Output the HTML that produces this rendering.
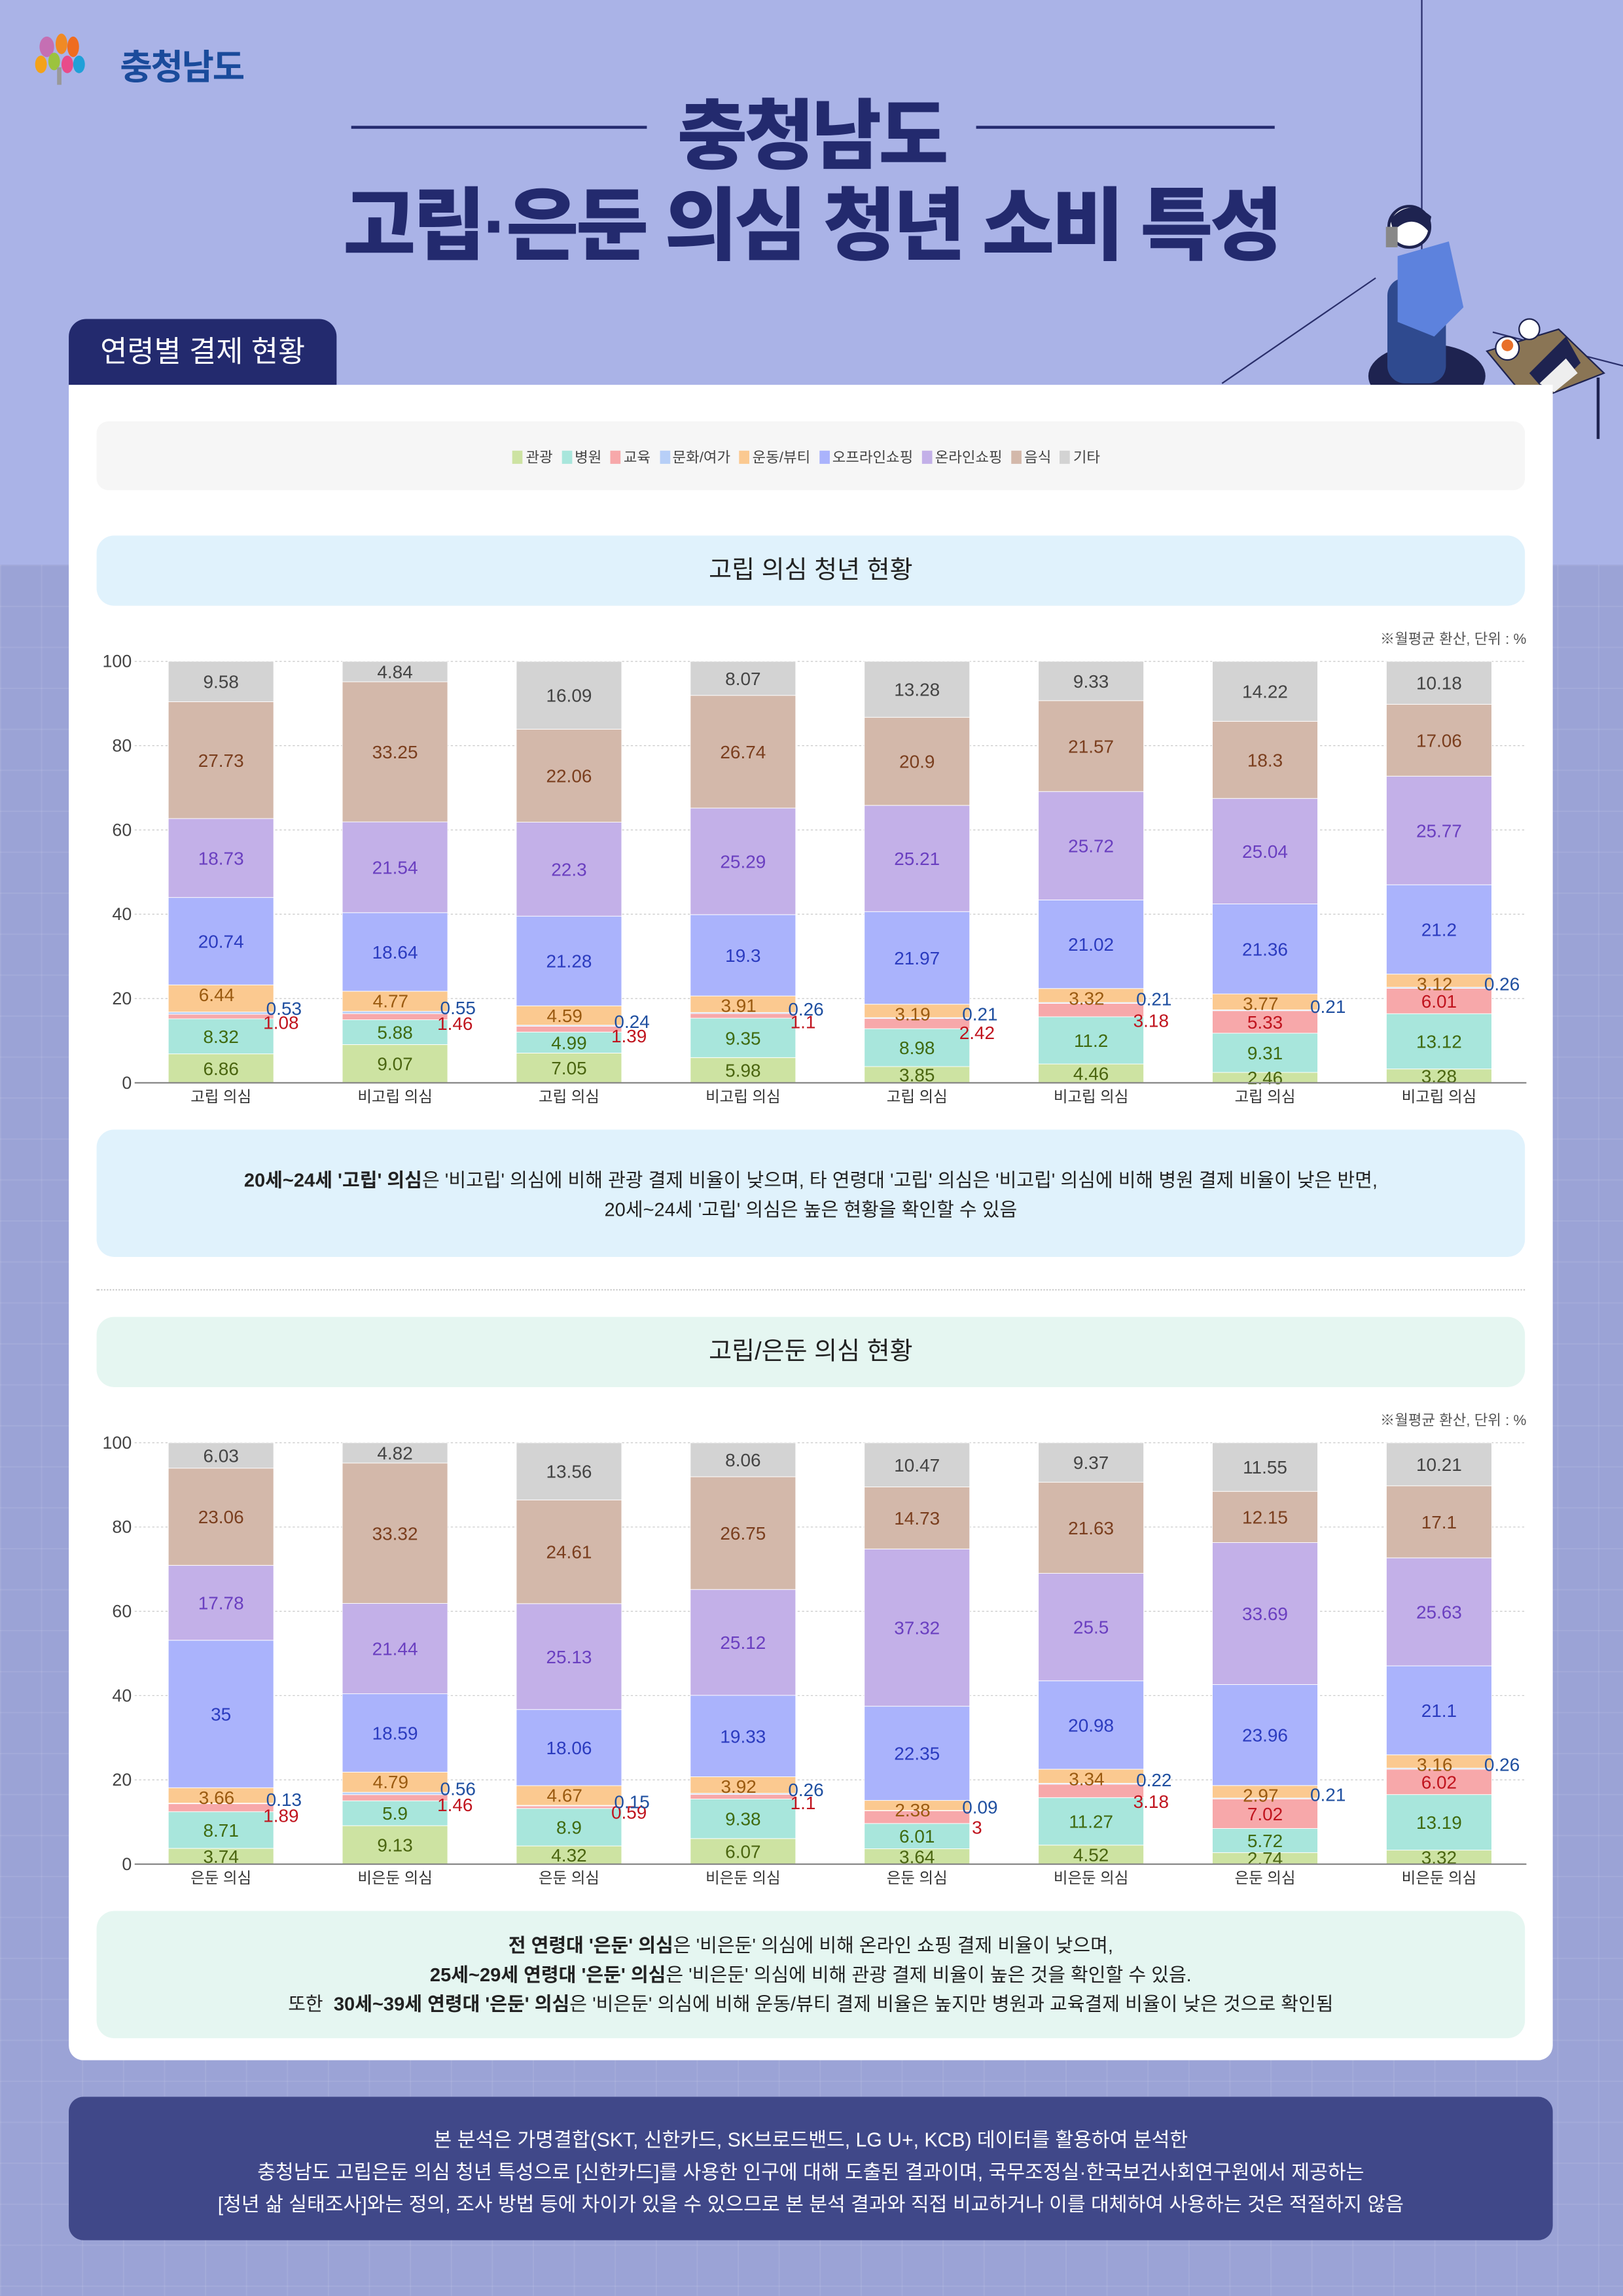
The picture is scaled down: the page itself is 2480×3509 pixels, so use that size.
<!DOCTYPE html>
<html><head><meta charset="utf-8">
<style>
html,body{margin:0;padding:0;}
body{width:2480px;height:3508px;overflow:hidden;background:#9ba3d6;}
#wrap{position:absolute;left:0;top:0;width:1109px;height:1569px;transform:scale(2.23625);transform-origin:0 0;font-family:"Liberation Sans","Noto Sans CJK KR",sans-serif;}
.abs{position:absolute;}
</style></head>
<body>
<div id="wrap">
<div class="abs" style="left:0;top:0;width:1109px;height:386px;background:#aab3e7;"></div>
<div class="abs" style="left:0;top:386px;width:1109px;height:1183px;background-color:#9ba3d6;background-image:linear-gradient(rgba(255,255,255,0.08) 1px,transparent 1px),linear-gradient(90deg,rgba(255,255,255,0.08) 1px,transparent 1px);background-size:28px 28px;"></div>
<div class="abs" style="left:971px;top:0;width:1px;height:250px;background:#2a2f6b;"></div>

<!-- logo -->
<div class="abs" style="left:22px;top:22px;width:150px;height:40px;">
<svg width="56" height="36" viewBox="0 0 56 36">
<ellipse cx="10" cy="10" rx="5" ry="7" fill="#c56fb3"/><ellipse cx="20" cy="8" rx="4" ry="7" fill="#f08a24"/><ellipse cx="28" cy="10" rx="4" ry="7" fill="#ef6c1f"/>
<ellipse cx="6" cy="22" rx="4" ry="6" fill="#f3a21a"/><ellipse cx="15" cy="20" rx="4" ry="6" fill="#9cc33e"/><ellipse cx="24" cy="22" rx="4" ry="6" fill="#e94b8a"/><ellipse cx="32" cy="22" rx="4" ry="6" fill="#20a0d8"/>
<rect x="17" y="24" width="3" height="12" fill="#999"/></svg>
<span class="abs" style="left:60px;top:4px;font-size:24px;font-weight:bold;color:#1a4b9b;letter-spacing:-1px;">충청남도</span>
</div>

<!-- title -->
<div class="abs" style="left:240px;top:86px;width:202px;height:2px;background:#232a6e;"></div>
<div class="abs" style="left:667px;top:86px;width:204px;height:2px;background:#232a6e;"></div>
<div class="abs" style="left:0;top:51px;width:1109px;text-align:center;font-size:52px;font-weight:900;color:#232a6e;letter-spacing:-2px;">충청남도</div>
<div class="abs" style="left:0;top:110px;width:1109px;text-align:center;font-size:54px;font-weight:900;color:#232a6e;letter-spacing:-2px;">고립·은둔 의심 청년 소비 특성</div>

<!-- illustration -->
<svg class="abs" style="left:830px;top:130px;" width="279" height="190" viewBox="0 0 279 190">
<line x1="5" y1="132" x2="110" y2="60" stroke="#2a2f6b" stroke-width="1"/>
<line x1="190" y1="97" x2="279" y2="120" stroke="#2a2f6b" stroke-width="1"/>
<ellipse cx="145" cy="127" rx="40" ry="22" fill="#1e2350"/>
<rect x="118" y="60" width="40" height="72" rx="12" fill="#2f4a8f"/>
<path d="M125 45 L160 35 L170 80 L150 100 L125 90 Z" fill="#5d82dd"/>
<circle cx="133" cy="25" r="14" fill="#fff" stroke="#1e2350" stroke-width="2"/>
<path d="M120 20 Q133 5 148 18 L146 28 Q135 15 122 28Z" fill="#1e2350"/>
<rect x="117" y="25" width="8" height="14" fill="#888"/>
<path d="M186 110 L235 95 L266 125 L215 145 Z" fill="#8a7555" stroke="#1e2350"/>
<line x1="215" y1="145" x2="215" y2="186" stroke="#1e2350" stroke-width="2"/><line x1="262" y1="128" x2="262" y2="170" stroke="#1e2350" stroke-width="2"/>
<path d="M215 125 L240 100 L250 118 L228 140 Z" fill="#1e2350"/>
<path d="M222 132 L240 115 L248 125 L232 138Z" fill="#eee"/>
<circle cx="200" cy="108" r="8" fill="#fff" stroke="#1e2350"/><circle cx="200" cy="106" r="4" fill="#e8702a"/>
<circle cx="215" cy="95" r="7" fill="#fff" stroke="#1e2350"/>
</svg>

<!-- tab -->
<div class="abs" style="left:47px;top:218px;width:183px;height:46px;background:#232a6e;border-radius:12px 12px 0 0;color:#fff;font-size:20px;line-height:46px;text-align:center;">연령별 결제 현황</div>

<!-- card -->
<div class="abs" style="left:47px;top:263px;width:1014px;height:1145px;background:#fff;border-radius:0 0 10px 10px;"></div>

<div class="abs" style="left:66px;top:288px;width:976px;height:47px;background:#f6f6f6;border-radius:8px;"></div>
<div id="legend" class="abs" style="left:66px;top:304px;width:976px;text-align:center;font-size:10px;color:#444;"></div>

<div class="abs" style="left:66px;top:366px;width:976px;height:48px;background:#e0f2fc;border-radius:12px;text-align:center;line-height:48px;font-size:17px;color:#222;">고립 의심 청년 현황</div>
<div class="abs" style="left:843px;top:428px;width:200px;text-align:right;font-size:10px;color:#555;">※월평균 환산, 단위 : %</div>
<svg id="chart1" class="abs" style="left:0;top:440px;" width="1109" height="320"></svg>

<div class="abs" style="left:66px;top:772px;width:976px;height:87px;background:#e0f2fc;border-radius:12px;text-align:center;font-size:13px;color:#222;line-height:20px;padding-top:25px;box-sizing:border-box;"><b>20세~24세 '고립' 의심</b>은 '비고립' 의심에 비해 관광 결제 비율이 낮으며, 타 연령대 '고립' 의심은 '비고립' 의심에 비해 병원 결제 비율이 낮은 반면,<br>20세~24세 '고립' 의심은 높은 현황을 확인할 수 있음</div>

<div class="abs" style="left:66px;top:881px;width:976px;border-top:1px dotted #ccc;"></div>

<div class="abs" style="left:66px;top:900px;width:976px;height:48px;background:#e5f6f1;border-radius:12px;text-align:center;line-height:48px;font-size:17px;color:#222;">고립/은둔 의심 현황</div>
<div class="abs" style="left:843px;top:962px;width:200px;text-align:right;font-size:10px;color:#555;">※월평균 환산, 단위 : %</div>
<svg id="chart2" class="abs" style="left:0;top:974px;" width="1109" height="320"></svg>

<div class="abs" style="left:66px;top:1306px;width:976px;height:87px;background:#e5f6f1;border-radius:12px;text-align:center;font-size:13px;color:#222;line-height:20px;padding-top:14px;box-sizing:border-box;"><b>전 연령대 '은둔' 의심</b>은 '비은둔' 의심에 비해 온라인 쇼핑 결제 비율이 낮으며,<br><b>25세~29세 연령대 '은둔' 의심</b>은 '비은둔' 의심에 비해 관광 결제 비율이 높은 것을 확인할 수 있음.<br>또한 &nbsp;<b>30세~39세 연령대 '은둔' 의심</b>은 '비은둔' 의심에 비해 운동/뷰티 결제 비율은 높지만 병원과 교육결제 비율이 낮은 것으로 확인됨</div>

<div class="abs" style="left:47px;top:1433px;width:1014px;height:98px;background:#404889;border-radius:10px;text-align:center;color:#fff;font-size:13.5px;line-height:22px;padding-top:19px;box-sizing:border-box;">본 분석은 가명결합(SKT, 신한카드, SK브로드밴드, LG U+, KCB) 데이터를 활용하여 분석한<br>충청남도 고립은둔 의심 청년 특성으로 [신한카드]를 사용한 인구에 대해 도출된 결과이며, 국무조정실·한국보건사회연구원에서 제공하는<br>[청년 삶 실태조사]와는 정의, 조사 방법 등에 차이가 있을 수 있으므로 본 분석 결과와 직접 비교하거나 이를 대체하여 사용하는 것은 적절하지 않음</div>
</div>

<script>
const categories = ["관광","병원","교육","문화/여가","운동/뷰티","오프라인쇼핑","온라인쇼핑","음식","기타"];
const barColors = ["#cde3a2","#a8e6dc","#f7a8aa","#b7cff7","#fbc990","#aab3fc","#c3b0e8","#d3b8aa","#d3d3d3"];
const textColors = ["#4a6510","#3f6a10","#c0141e","#1f4fa0","#9a5a10","#2b3bbf","#6a3fc0","#7a3e1e","#444444"];
const yTicks = [0,20,40,60,80,100];
const labels1 = ["고립 의심","비고립 의심","고립 의심","비고립 의심","고립 의심","비고립 의심","고립 의심","비고립 의심"];
const labels2 = ["은둔 의심","비은둔 의심","은둔 의심","비은둔 의심","은둔 의심","비은둔 의심","은둔 의심","비은둔 의심"];
const data1 = [
 [6.86,8.32,1.08,0.53,6.44,20.74,18.73,27.73,9.58],
 [9.07,5.88,1.46,0.55,4.77,18.64,21.54,33.25,4.84],
 [7.05,4.99,1.39,0.24,4.59,21.28,22.3,22.06,16.09],
 [5.98,9.35,1.1,0.26,3.91,19.3,25.29,26.74,8.07],
 [3.85,8.98,2.42,0.21,3.19,21.97,25.21,20.9,13.28],
 [4.46,11.2,3.18,0.21,3.32,21.02,25.72,21.57,9.33],
 [2.46,9.31,5.33,0.21,3.77,21.36,25.04,18.3,14.22],
 [3.28,13.12,6.01,0.26,3.12,21.2,25.77,17.06,10.18]];
const data2 = [
 [3.74,8.71,1.89,0.13,3.66,35,17.78,23.06,6.03],
 [9.13,5.9,1.46,0.56,4.79,18.59,21.44,33.32,4.82],
 [4.32,8.9,0.59,0.15,4.67,18.06,25.13,24.61,13.56],
 [6.07,9.38,1.1,0.26,3.92,19.33,25.12,26.75,8.06],
 [3.64,6.01,3,0.09,2.38,22.35,37.32,14.73,10.47],
 [4.52,11.27,3.18,0.22,3.34,20.98,25.5,21.63,9.37],
 [2.74,5.72,7.02,0.21,2.97,23.96,33.69,12.15,11.55],
 [3.32,13.19,6.02,0.26,3.16,21.1,25.63,17.1,10.21]];

const NS="http://www.w3.org/2000/svg";
function mk(parent,tag,attrs){const e=document.createElementNS(NS,tag);for(const k in attrs)e.setAttribute(k,attrs[k]);parent.appendChild(e);return e;}

const lg=document.getElementById('legend');
categories.forEach((c,i)=>{
  const s=document.createElement('span');
  
  
  s.style.marginRight='6px';
  s.innerHTML='<span style="display:inline-block;width:7px;height:9px;background:'+barColors[i]+';vertical-align:-1px;margin-right:2px"></span>'+c;
  lg.appendChild(s);
});

function drawChart(svg,data,labels){
  const top=12,bottom=300,left=92,right=1043;
  const y=v=>bottom-(v/100)*(bottom-top);
  const x=i=>151+i*118.9;
  const bw=72;
  yTicks.forEach(t=>{
    if(t>0){const g=mk(svg,'line',{x1:left,x2:right,y1:y(t),y2:y(t),stroke:'#ccc','stroke-dasharray':'1.5,1.5','stroke-width':0.6});
    
    }
    const tx=mk(svg,'text',{x:90,y:y(t)+4,'text-anchor':'end','font-size':12,fill:'#444'});
    tx.textContent=t;
    
    
  });
  data.forEach((row,i)=>{
    let cum=0;const cx=x(i);
    row.forEach((v,k)=>{
      const y0=y(cum),y1=y(cum+v);
      const r=mk(svg,'rect',{x:cx-bw/2,y:y1,width:bw,height:Math.max(0,y0-y1),fill:barColors[k],stroke:'#fff','stroke-width':0.4});
      
      
      cum+=v;
    });
    cum=0;
    row.forEach((v,k)=>{
      const mid=y(cum+v/2);
      let tx,ty,anchor='middle';
      if(k===3){tx=cx+bw/2+7;ty=y(cum+v)+2;}
      else if(k===2 && v<4){tx=cx+bw/2+5;ty=y(cum)+2+5;}
      else if(k===4){tx=cx-3;ty=y(cum+v)+11;}
      else {tx=cx;ty=mid+4.5;}
      const t=mk(svg,'text',{x:tx,y:ty,'text-anchor':anchor,'font-size':12.5,fill:textColors[k]});
      t.textContent=v;
      
      
      cum+=v;
    });
    const lb=mk(svg,'text',{x:cx,y:bottom+13,'text-anchor':'middle','font-size':10.5,fill:'#333'});
    lb.textContent=labels[i];
    
    
  });
  const ax=mk(svg,'line',{x1:left,x2:right,y1:bottom,y2:bottom,stroke:'#888','stroke-width':1});
  
  
}
drawChart(document.getElementById('chart1'),data1,labels1);
drawChart(document.getElementById('chart2'),data2,labels2);
</script>
</body></html>
